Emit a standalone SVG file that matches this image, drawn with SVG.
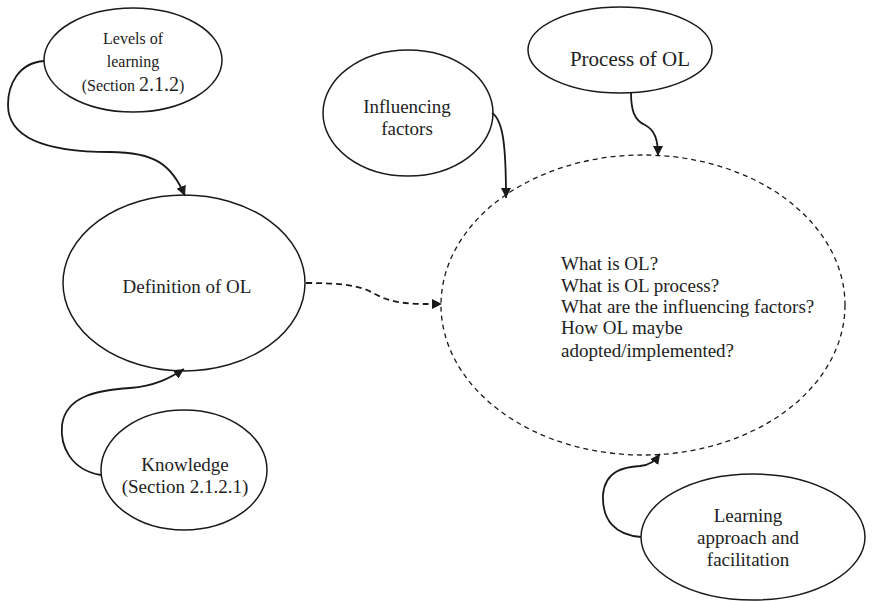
<svg xmlns="http://www.w3.org/2000/svg" width="874" height="601" viewBox="0 0 874 601">
<defs>
<marker id="ah" viewBox="0 0 10 10" refX="10" refY="5" markerWidth="10" markerHeight="10" markerUnits="userSpaceOnUse" orient="auto">
<path d="M0,0 L10,5 L0,10 Z" fill="#1a1a1a"/>
</marker>
<style>
.n{fill:#fff;stroke:#1a1a1a;stroke-width:1.5}
.d{fill:none;stroke:#1a1a1a;stroke-width:1.3;stroke-dasharray:5 4}
.c{fill:none;stroke:#1a1a1a;stroke-width:1.8}
.cd{fill:none;stroke:#1a1a1a;stroke-width:1.8;stroke-dasharray:6 4}
text{font-family:"Liberation Serif","Times New Roman",serif;fill:#222}
.m{text-anchor:middle}
.s16{font-size:16px}
.s19{font-size:19px}
.s20{font-size:20px}
.s21{font-size:21px}
</style>
</defs>
<rect width="874" height="601" fill="#fff"/>
<g id="levels">
<ellipse class="n" cx="133" cy="60" rx="89" ry="52"/>
<text class="m s16" x="133" y="44">Levels of</text>
<text class="m s16" x="133" y="67">learning</text>
<text class="m s16" x="133" y="91">(Section <tspan class="s20">2.1.2</tspan>)</text>
</g>
<g id="definition">
<ellipse class="n" cx="184" cy="283" rx="121" ry="88"/>
<text class="m s19" x="187" y="293">Definition of OL</text>
</g>
<g id="knowledge">
<ellipse class="n" cx="184" cy="470" rx="83" ry="60"/>
<text class="m s19" x="185" y="471">Knowledge</text>
<text class="m s19" x="185" y="493">(Section 2.1.2.1)</text>
</g>
<g id="influencing">
<ellipse class="n" cx="408" cy="113" rx="85" ry="63"/>
<text class="m s19" x="407" y="113">Influencing</text>
<text class="m s19" x="407" y="135">factors</text>
</g>
<g id="process">
<ellipse class="n" cx="620" cy="50" rx="92" ry="43"/>
<text class="m s21" x="630" y="66">Process of OL</text>
</g>
<g id="center">
<ellipse class="d" cx="643" cy="305" rx="202" ry="150"/>
<text class="s19" x="561" y="270">What is OL?</text>
<text class="s19" x="561" y="292">What is OL process?</text>
<text class="s19" x="561" y="313">What are the influencing factors?</text>
<text class="s19" x="561" y="334">How OL maybe</text>
<text class="s19" x="561" y="357">adopted/implemented?</text>
</g>
<g id="learning">
<ellipse class="n" cx="753" cy="537" rx="112" ry="63"/>
<text class="m s19" x="748" y="522">Learning</text>
<text class="m s19" x="748" y="544">approach and</text>
<text class="m s19" x="748" y="566">facilitation</text>
</g>
<g id="connectors">
<path class="c" d="M44,61 C18,63 8,85 8,105 C8,140 50,152 110,152 C155,152 172,165 185,196" marker-end="url(#ah)"/>
<path class="cd" d="M306,283 C340,283 360,285 375,294 C395,305 415,304 442,304" marker-end="url(#ah)"/>
<path class="c" d="M101,475 C70,470 60,445 62,425 C66,395 100,390 130,388 C155,386 170,378 184,369" marker-end="url(#ah)"/>
<path class="c" d="M492,113 C503,120 506,145 506,198" marker-end="url(#ah)"/>
<path class="c" d="M631,92 C631,110 634,120 645,125 C655,130 658,140 658,156" marker-end="url(#ah)"/>
<path class="c" d="M641,537 C615,535 602,520 603,495 C605,470 625,467 640,466 C650,465 655,461 660,454" marker-end="url(#ah)"/>
</g>
</svg>
